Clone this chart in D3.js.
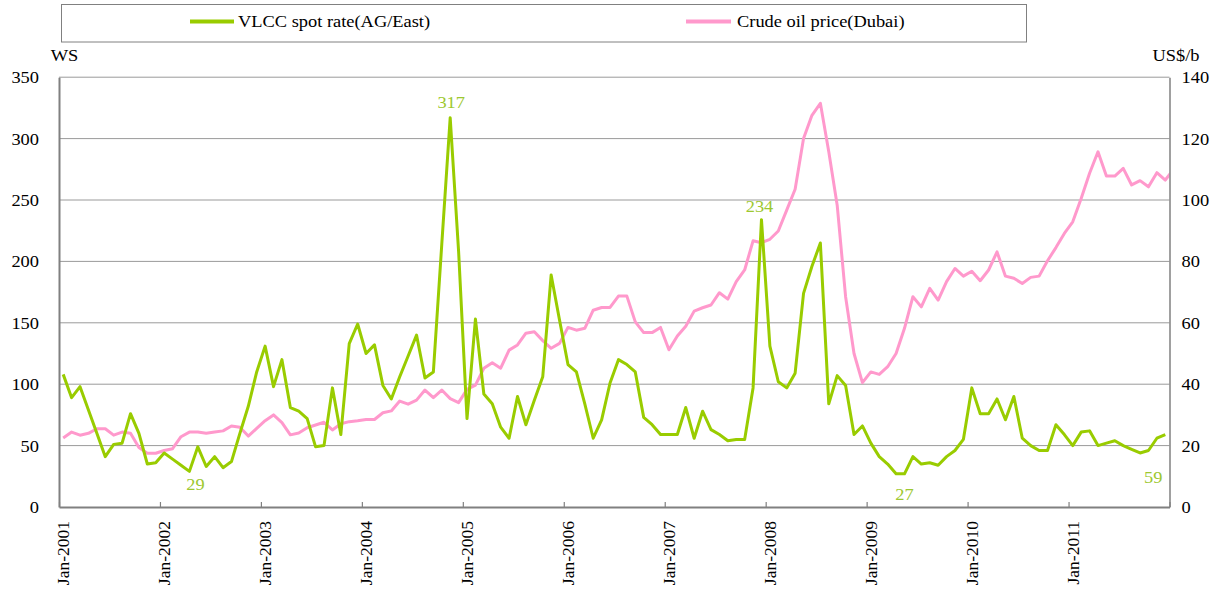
<!DOCTYPE html>
<html>
<head>
<meta charset="utf-8">
<script src="https://cdn.jsdelivr.net/npm/d3@7"></script>
<style>
  body { margin: 0; background: #fff; }
  svg { display: block; }
  text { font-family: "Liberation Serif", "Times New Roman", serif; }
</style>
</head>
<body>
<svg id="chart" width="1220" height="591"></svg>
<script>
// ---------------- DATA ----------------
const monthNames = ["Jan","Feb","Mar","Apr","May","Jun","Jul","Aug","Sep","Oct","Nov","Dec"];
const years = [2001,2002,2003,2004,2005,2006,2007,2008,2009,2010,2011];
const categories = years.flatMap(y => monthNames.map(m => m + "-" + y));
const xTickLabels = ["Jan-2001","Jan-2002","Jan-2003","Jan-2004","Jan-2005","Jan-2006",
                     "Jan-2007","Jan-2008","Jan-2009","Jan-2010","Jan-2011"];
const leftTicks = [0,50,100,150,200,250,300,350];
const rightTicks = [0,20,40,60,80,100,120,140];
const seriesNames = ["VLCC spot rate(AG/East)", "Crude oil price(Dubai)"];
const leftUnit = "WS";
const rightUnit = "US$/b";

// VLCC spot rate (AG/East), WS, monthly Jan-2001 .. Dec-2011
const vlcc = [
  108, 89, 98, 79, 60, 41, 51, 52, 76, 60, 35, 36,
  44, 39, 34, 29, 49, 33, 41, 32, 37, 60, 82, 110,
  131, 98, 120, 81, 78, 72, 49, 50, 97, 59, 133, 149,
  125, 132, 99, 88, 106, 123, 140, 105, 110, 214, 317, 208,
  72, 153, 92, 84, 65, 56, 90, 67, 87, 106, 189, 152,
  116, 110, 84, 56, 71, 101, 120, 116, 110, 73, 67, 59,
  59, 59, 81, 56, 78, 63, 59, 54, 55, 55, 97, 234,
  131, 102, 97, 109, 174, 196, 215, 84, 107, 99, 59, 66,
  52, 41, 35, 27, 27, 41, 35, 36, 34, 41, 46, 55,
  97, 76, 76, 88, 71, 90, 56, 50, 46, 46, 67, 59,
  50, 61, 62, 50, 52, 54, 50, 47, 44, 46, 56, 59
];
// Crude oil price (Dubai), US$/b, Jan-2001 .. Dec-2011 (+ first point of 2012, cut by the axis)
const dubai = [
  22.5, 24.4, 23.4, 24.0, 25.5, 25.5, 23.4, 24.4, 24.0, 19.4, 17.5, 17.5,
  18.4, 19.0, 22.9, 24.4, 24.4, 24.0, 24.4, 24.8, 26.4, 26.0, 23.1, 25.6,
  28.1, 30.0, 27.5, 23.5, 24.1, 25.8, 26.7, 27.6, 25.1, 27.1, 27.8, 28.1,
  28.5, 28.5, 30.7, 31.3, 34.5, 33.5, 34.8, 38.1, 35.6, 38.1, 35.3, 34.0,
  38.3, 39.7, 45.2, 47.0, 45.2, 51.1, 52.8, 56.6, 57.1, 54.2, 51.7, 53.3,
  58.5, 57.6, 58.2, 64.1, 65.0, 65.0, 68.7, 68.7, 60.3, 56.8, 56.8, 58.5,
  51.2, 55.7, 58.9, 63.8, 64.9, 65.8, 69.8, 67.7, 73.4, 77.2, 86.7, 86.1,
  87.2, 89.9, 96.7, 103.5, 120.0, 127.6, 131.5, 115.7, 98.3, 68.5, 50.0, 40.5,
  44.0, 43.2, 45.7, 50.0, 58.2, 68.5, 65.2, 71.2, 67.4, 73.4, 77.7, 75.2,
  76.8, 73.7, 77.2, 83.1, 75.2, 74.5, 72.8, 74.8, 75.2, 80.2, 84.5, 89.1,
  92.9, 100.5, 108.7, 115.7, 107.8, 107.8, 110.3, 104.9, 106.3, 104.3, 108.9, 106.5,
  110.0
];
// indices of VLCC points that carry a value label
const labelledPoints = [15, 46, 83, 100, 131];

// ---------------- LAYOUT / STYLE ----------------
const W = 1220, H = 591;
const L = 59, R = 1169.5, T = 77.2, B = 507;
const SX = 1.15;            // horizontal stretch of text, as in the reference
const green = "#99cc00", pink = "#ff99cc", labelGreen = "#9dc830";
const axisGray = "#808080", gridGray = "#9a9a9a";
const fs = 16;

const svg = d3.select("#chart");

const yL = d3.scaleLinear().domain([0, 350]).range([B, T]);
const yR = d3.scaleLinear().domain([0, 140]).range([B, T]);
const xBand = d3.scaleBand().domain(categories).range([L, R]).paddingInner(0).paddingOuter(0);
const xIdx = d3.scaleLinear().domain([0, categories.length]).range([L, R]);
const px = i => xIdx(i + 0.5);

// clip path for plot area
svg.append("defs").append("clipPath").attr("id", "plot")
  .append("rect").attr("x", L).attr("y", T - 20).attr("width", R - L).attr("height", B - T + 20);

// gridlines
svg.append("g").selectAll("line").data(leftTicks.filter(t => t > 0)).join("line")
  .attr("x1", L).attr("x2", R)
  .attr("y1", d => yL(d)).attr("y2", d => yL(d))
  .attr("stroke", gridGray).attr("stroke-width", 1);

// series lines
const lineL = d3.line().x((d, i) => px(i)).y(d => yL(d));
const lineR = d3.line().x((d, i) => px(i)).y(d => yR(d));
const plot = svg.append("g").attr("clip-path", "url(#plot)");
plot.append("path").datum(dubai).attr("d", lineR)
  .attr("fill", "none").attr("stroke", pink).attr("stroke-width", 3)
  .attr("stroke-linejoin", "round");
plot.append("path").datum(vlcc).attr("d", lineL)
  .attr("fill", "none").attr("stroke", green).attr("stroke-width", 3)
  .attr("stroke-linejoin", "round");

// x axis: year boundary ticks
const xTicksAxis = svg.append("g").attr("transform", `translate(0,${B})`)
  .call(d3.axisBottom(xIdx).tickValues(d3.range(0, categories.length + 1, 12))
    .tickSize(-5).tickSizeOuter(0).tickFormat(""));
xTicksAxis.select(".domain").attr("stroke", axisGray).attr("stroke-width", 2);
xTicksAxis.selectAll(".tick line").attr("stroke", axisGray).attr("stroke-width", 1.2);

// x axis labels (category centres)
const xLab = svg.append("g").attr("transform", `translate(0,${B})`)
  .call(d3.axisBottom(xBand).tickValues(xTickLabels).tickSize(0).tickSizeOuter(0));
xLab.select(".domain").remove();
xLab.selectAll("text")
  .attr("font-family", "Liberation Serif, Times New Roman, serif")
  .attr("font-size", 17.5).attr("fill", "#000")
  .attr("y", 0).attr("dy", null).attr("x", -14)
  .attr("text-anchor", "end")
  .attr("dominant-baseline", "central")
  .attr("transform", "rotate(-90)");

// left axis
const yAxL = svg.append("g").attr("transform", `translate(${L},0)`)
  .call(d3.axisLeft(yL).tickValues(leftTicks).tickSize(0).tickSizeOuter(0));
yAxL.select(".domain").attr("stroke", axisGray).attr("stroke-width", 2);
yAxL.selectAll("text")
  .attr("font-family", "Liberation Serif, Times New Roman, serif")
  .attr("font-size", fs).attr("fill", "#000")
  .attr("x", 0).attr("dy", "0.34em")
  .attr("transform", `translate(-20,0) scale(${SX},1)`);

// right axis
const yAxR = svg.append("g").attr("transform", `translate(${R},0)`)
  .call(d3.axisRight(yR).tickValues(rightTicks).tickSize(0).tickSizeOuter(0));
yAxR.select(".domain").attr("stroke", axisGray).attr("stroke-width", 1.5);
yAxR.selectAll("text")
  .attr("font-family", "Liberation Serif, Times New Roman, serif")
  .attr("font-size", fs).attr("fill", "#000")
  .attr("x", 0).attr("dy", "0.34em")
  .attr("transform", `translate(12,0) scale(${SX},1)`);

// helper for stretched horizontal text
function hText(x, y, str, anchor, color, size) {
  return svg.append("text")
    .attr("transform", `translate(${x},${y}) scale(${SX},1)`)
    .attr("text-anchor", anchor)
    .attr("font-size", size || fs)
    .attr("fill", color || "#000")
    .text(str);
}

// unit labels
hText(L + 5.5, 61, leftUnit, "middle");
hText(R + 6.5, 61, rightUnit, "middle");

// data labels
const labelOffset = { 15: [6, 19], 46: [1, -10], 83: [-2, -8], 100: [0, 26], 131: [-12, 48] };
labelledPoints.forEach(i => {
  const [dx, dy] = labelOffset[i];
  hText(px(i) + dx, yL(vlcc[i]) + dy, String(Math.round(vlcc[i])), "middle", labelGreen);
});

// legend
svg.append("rect").attr("x", 61.5).attr("y", 4.5).attr("width", 965).attr("height", 37.5)
  .attr("fill", "none").attr("stroke", axisGray).attr("stroke-width", 1);
const legendItems = [
  { name: seriesNames[0], color: green, x0: 190, x1: 234, tx: 238 },
  { name: seriesNames[1], color: pink, x0: 686, x1: 731, tx: 737 }
];
legendItems.forEach(it => {
  svg.append("line").attr("x1", it.x0).attr("x2", it.x1).attr("y1", 21.5).attr("y2", 21.5)
    .attr("stroke", it.color).attr("stroke-width", 4);
  hText(it.tx, 27, it.name, "start");
});
</script>
</body>
</html>
